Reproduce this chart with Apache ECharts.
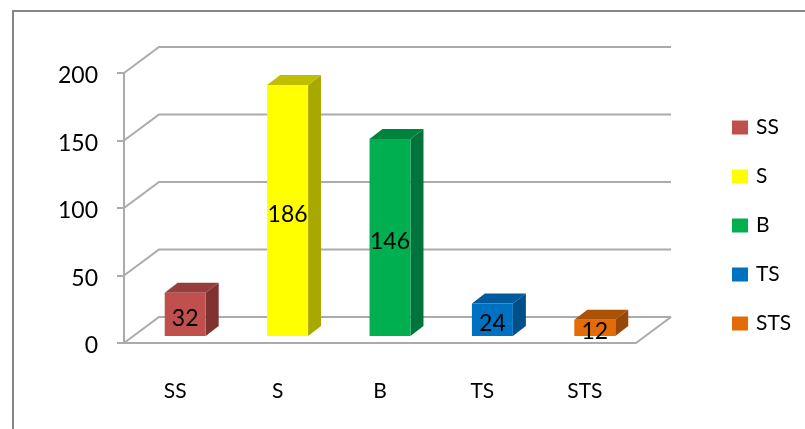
<!DOCTYPE html>
<html>
<head>
<meta charset="utf-8">
<title>Chart</title>
<style>
    html, body { margin: 0; padding: 0; background: #fff; }
    #main { width: 805px; height: 429px; }
</style>
<script src="https://cdn.jsdelivr.net/npm/echarts@6/dist/echarts.min.js"></script>
</head>
<body>
<div id="main"></div>
<script>
let categories = ['SS', 'S', 'B', 'TS', 'STS']
let values = [32, 186, 146, 24, 12]
let yTicks = [0, 50, 100, 150, 200]

let frontColors = ['#C0504D', '#FFFF00', '#00B050', '#0070C0', '#E36C09']
let topColors = ['#963E3B', '#BFBF00', '#00833C', '#005A9C', '#AB5207']
let sideColors = ['#7F322F', '#A8A800', '#00743A', '#004F88', '#964808']

const fontName = 'Lato'
const lineColor = '#ABABAB'
// oblique projection of the 3d box
const wallX = 35
const wallY = 26
const barX = 10
const barY = 7
const sideX = 13
const sideY = 10

let myChart = echarts.init(document.getElementById('main'))

function renderWall(params, api) {
    let sys = params.coordSys
    let y = api.coord([0, api.value(0)])[1]
    let children = [{
        type: 'polyline',
        shape: { points: [[sys.x, y], [sys.x + wallX, y - wallY], [sys.x + wallX + sys.width, y - wallY]] },
        style: { stroke: lineColor, lineWidth: 2, fill: null }
    }]
    if (api.value(0) === 0) {
        children.push({
            type: 'line',
            shape: { x1: sys.x + sys.width, y1: y, x2: sys.x + sys.width + wallX, y2: y - wallY },
            style: { stroke: lineColor, lineWidth: 2 }
        })
    }
    return { type: 'group', children: children }
}

function renderBar(i) {
    return (params, api) => {
        let base = api.coord([api.value(0), 0])
        let top = api.coord([api.value(0), api.value(1)])
        let w = api.size([1, 0])[0] * 0.4
        let x0 = base[0] + barX - w / 2
        let x1 = x0 + w
        let y0 = base[1] - barY
        let y1 = top[1] - barY
        return {
            type: 'group',
            children: [
                {
                    type: 'polygon',
                    shape: { points: [[x1, y1], [x1 + sideX, y1 - sideY], [x1 + sideX, y0 - sideY], [x1, y0]] },
                    style: { fill: sideColors[i] }
                },
                {
                    type: 'polygon',
                    shape: { points: [[x0, y1], [x0 + sideX, y1 - sideY], [x1 + sideX, y1 - sideY], [x1, y1]] },
                    style: { fill: topColors[i] }
                },
                {
                    type: 'rect',
                    shape: { x: x0, y: y1, width: w, height: y0 - y1 },
                    style: { fill: frontColors[i] }
                },
                {
                    type: 'text',
                    x: x0 + w / 2,
                    y: (y0 + y1) / 2 + 4,
                    style: {
                        text: String(api.value(1)),
                        fill: '#000',
                        font: '23px ' + fontName,
                        align: 'center',
                        verticalAlign: 'middle'
                    }
                }
            ]
        }
    }
}

let barSeries = categories.map((name, i) => ({
    name: name,
    type: 'custom',
    z: 5,
    clip: false,
    itemStyle: { color: frontColors[i] },
    renderItem: renderBar(i),
    encode: { x: 0, y: 1 },
    data: [[i, values[i]]]
}))

let option = {
    animation: false,
    backgroundColor: '#fff',
    graphic: [{
        type: 'polyline',
        shape: { points: [[13, 429], [13, 11], [805, 11]] },
        style: { stroke: '#868686', lineWidth: 2, fill: null }
    }],
    legend: {
        orient: 'vertical',
        left: 727,
        top: 112,
        itemWidth: 16,
        itemHeight: 14,
        itemGap: 28,
        icon: 'rect',
        selectedMode: false,
        textStyle: { fontFamily: fontName, fontSize: 21, color: '#000', padding: [0, 0, 0, 3] },
        data: categories
    },
    grid: { left: 124, top: 73, width: 512, height: 270 },
    xAxis: {
        type: 'category',
        data: categories,
        axisLine: { lineStyle: { color: lineColor, width: 2 } },
        axisTick: { length: 10, lineStyle: { color: lineColor, width: 2 } },
        axisLabel: { margin: 38, color: '#000', fontFamily: fontName, fontSize: 21 }
    },
    yAxis: {
        type: 'value',
        min: 0,
        max: 200,
        interval: 50,
        splitLine: { show: false },
        axisLine: { show: true, lineStyle: { color: lineColor, width: 2 } },
        axisTick: { show: true, length: 7, lineStyle: { color: lineColor, width: 2 } },
        axisLabel: { margin: 26, color: '#000', fontFamily: fontName, fontSize: 23, verticalAlign: 'top', lineHeight: 6 }
    },
    series: [{
        type: 'custom',
        z: 1,
        clip: false,
        silent: true,
        renderItem: renderWall,
        encode: { y: 0 },
        data: yTicks.map(v => [v])
    }].concat(barSeries)
}

myChart.setOption(option)
</script>
</body>
</html>
